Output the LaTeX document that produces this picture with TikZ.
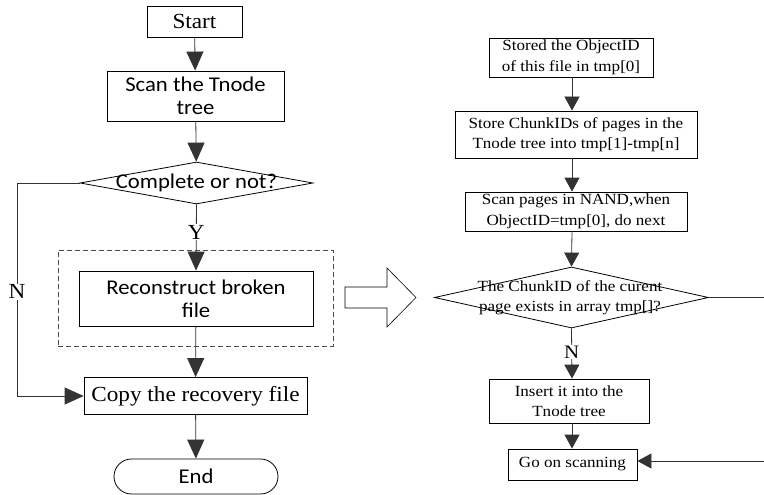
\documentclass[tikz,border=0pt]{standalone}
\usepackage{fontspec}
\setmainfont{Liberation Serif}
\newfontfamily\lserif[FakeStretch=1.08]{Liberation Serif}
\newfontfamily\rserif[FakeStretch=1.1]{Liberation Serif}
\newfontfamily\csans[FakeStretch=1.08]{Carlito}
\usetikzlibrary{shapes.geometric,arrows.meta}
\begin{document}
\begin{tikzpicture}[x=1pt,y=-1pt,
  line width=0.8pt,
  box/.style={draw, rectangle, inner sep=0pt, align=center},
  lbig/.style={font=\lserif\fontsize{21.5}{25}\selectfont},
  lsans/.style={font=\csans\fontsize{21}{23}\selectfont},
  rtext/.style={font=\rserif\fontsize{15.5}{20.5}\selectfont},
  dia/.style={draw, diamond, inner sep=0pt},
  conn/.style={draw=black!80},
  arrL/.style={conn, -{Triangle[width=17pt,length=19pt]}},
  arrR/.style={conn, -{Triangle[width=15pt,length=14pt]}},
  lab/.style={fill=white, inner sep=1pt}
]
\useasboundingbox (0,0) rectangle (764,495);
% ---------- left flowchart ----------
\node[box, lbig, minimum width=95pt, minimum height=31pt] (start) at (194.5,21.5) {Start};
\node[box, lsans, minimum width=177pt, minimum height=50pt] (scan) at (195.5,96) {Scan the Tnode\\tree};
\node[dia, minimum width=233pt, minimum height=42pt] (d1) at (196.5,183) {};
\node[lsans, inner sep=0pt] (d1t) at (196.5,183) {Complete or not?};
\node[draw=black!70, dash pattern=on 5pt off 3pt, rectangle, minimum width=275pt, minimum height=96pt, inner sep=0pt] (dbox) at (195.5,298) {};
\node[box, lsans, minimum width=234pt, minimum height=55pt] (rec) at (196,298.5) {Reconstruct broken\\file};
\node[box, lbig, minimum width=223pt, minimum height=37pt] (copy) at (195.5,396) {Copy the recovery file};
\node[box, lsans, rounded corners=17.5pt, minimum width=164pt, minimum height=35pt] (end) at (196,476.5) {End};
\coordinate (nl1) at (17,183);
\coordinate (nl2) at (17,396);

\draw[arrL] (start) -- (scan);
\draw[arrL] (scan) -- (d1);
\draw[arrL] (d1.south) -- node[lab, lbig, pos=0.42] (ylab) {Y} (rec.north);
\draw[arrL] (rec) -- (copy);
\draw[arrL] (copy) -- (end);
\draw[arrL] (d1.west) -- (nl1) -- node[lab, lbig, pos=0.51] (nlab) {N} (nl2) -- (copy.west);

% ---------- hollow arrow ----------
\draw[line width=0.6pt] (345,287) -- (387,287) -- (387,268) -- (416,297.5) -- (387,327) -- (387,308) -- (345,308) -- cycle;

% ---------- right flowchart ----------
\node[box, rtext, minimum width=164pt, minimum height=39pt] (b1) at (571,57.5) {Stored the ObjectID\\of this file in tmp[0]};
\node[box, rtext, minimum width=242pt, minimum height=47pt] (b2) at (576,134.5) {Store ChunkIDs of pages in the\\Tnode tree into tmp[1]-tmp[n]};
\node[box, rtext, minimum width=222pt, minimum height=39pt] (b3) at (576,211.5) {Scan pages in NAND,when\\ObjectID=tmp[0], do next};
\node[dia, minimum width=274pt, minimum height=61pt] (d2) at (571.5,297.5) {};
\node[rtext, inner sep=0pt, align=center] (d2t) at (570,297.5) {The ChunkID of the curent\\page exists in array tmp[]?};
\node[box, rtext, minimum width=160pt, minimum height=44pt] (ins) at (569,401) {Insert it into the\\Tnode tree};
\node[box, rtext, minimum width=129pt, minimum height=31pt] (go) at (572.5,464.5) {Go on scanning};
\coordinate (r1) at (775,297.5);
\coordinate (r2) at (775,461);

\draw[arrR] (b1.south -| 572,0) -- (572,0 |- b2.north);
\draw[arrR] (b2.south -| 572,0) -- (572,0 |- b3.north);
\draw[arrR] (b3.south -| 572,0) -- (d2.north);
\draw[arrR] (d2.south) -- node[lab, font=\rserif\fontsize{19}{20}\selectfont, pos=0.47] (nlab2) {N} (572,0 |- ins.north);
\draw[arrR] (572,0 |- ins.south) -- (572,0 |- go.north);
\draw[arrR] (d2.east) -- (r1) -- (r2) -- (go.east |- r2);
\end{tikzpicture}
\end{document}
